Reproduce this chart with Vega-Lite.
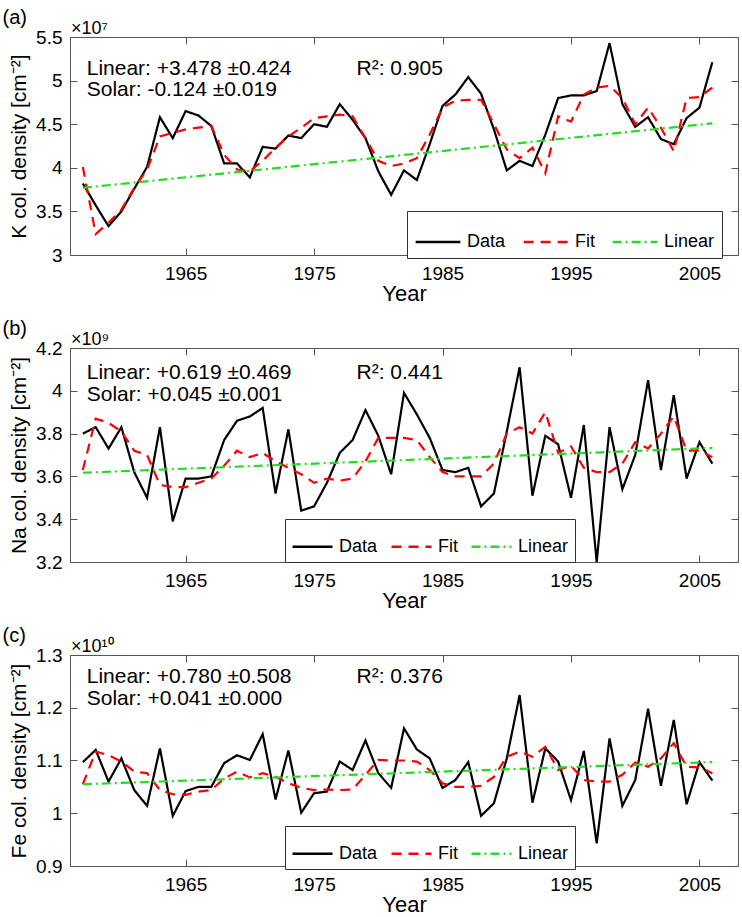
{
"$schema":"https://vega.github.io/schema/vega-lite/v6.json",
"padding":{"left":2,"top":7,"right":3,"bottom":0},
"spacing":13,
"datasets":{
"series":[
{"panel":"a","series":"Data","year":1957,"value":3.82},{"panel":"a","series":"Data","year":1958,"value":3.57},{"panel":"a","series":"Data","year":1959,"value":3.33},{"panel":"a","series":"Data","year":1960,"value":3.50},{"panel":"a","series":"Data","year":1961,"value":3.76},{"panel":"a","series":"Data","year":1962,"value":4.01},{"panel":"a","series":"Data","year":1963,"value":4.58},{"panel":"a","series":"Data","year":1964,"value":4.34},{"panel":"a","series":"Data","year":1965,"value":4.65},{"panel":"a","series":"Data","year":1966,"value":4.60},
{"panel":"a","series":"Data","year":1967,"value":4.48},{"panel":"a","series":"Data","year":1968,"value":4.05},{"panel":"a","series":"Data","year":1969,"value":4.05},{"panel":"a","series":"Data","year":1970,"value":3.89},{"panel":"a","series":"Data","year":1971,"value":4.24},{"panel":"a","series":"Data","year":1972,"value":4.22},{"panel":"a","series":"Data","year":1973,"value":4.37},{"panel":"a","series":"Data","year":1974,"value":4.34},{"panel":"a","series":"Data","year":1975,"value":4.50},{"panel":"a","series":"Data","year":1976,"value":4.47},
{"panel":"a","series":"Data","year":1977,"value":4.73},{"panel":"a","series":"Data","year":1978,"value":4.55},{"panel":"a","series":"Data","year":1979,"value":4.34},{"panel":"a","series":"Data","year":1980,"value":3.96},{"panel":"a","series":"Data","year":1981,"value":3.69},{"panel":"a","series":"Data","year":1982,"value":3.97},{"panel":"a","series":"Data","year":1983,"value":3.86},{"panel":"a","series":"Data","year":1984,"value":4.27},{"panel":"a","series":"Data","year":1985,"value":4.71},{"panel":"a","series":"Data","year":1986,"value":4.84},
{"panel":"a","series":"Data","year":1987,"value":5.04},{"panel":"a","series":"Data","year":1988,"value":4.85},{"panel":"a","series":"Data","year":1989,"value":4.44},{"panel":"a","series":"Data","year":1990,"value":3.97},{"panel":"a","series":"Data","year":1991,"value":4.08},{"panel":"a","series":"Data","year":1992,"value":4.02},{"panel":"a","series":"Data","year":1993,"value":4.38},{"panel":"a","series":"Data","year":1994,"value":4.80},{"panel":"a","series":"Data","year":1995,"value":4.83},{"panel":"a","series":"Data","year":1996,"value":4.83},
{"panel":"a","series":"Data","year":1997,"value":4.88},{"panel":"a","series":"Data","year":1998,"value":5.43},{"panel":"a","series":"Data","year":1999,"value":4.73},{"panel":"a","series":"Data","year":2000,"value":4.47},{"panel":"a","series":"Data","year":2001,"value":4.58},{"panel":"a","series":"Data","year":2002,"value":4.33},{"panel":"a","series":"Data","year":2003,"value":4.27},{"panel":"a","series":"Data","year":2004,"value":4.57},{"panel":"a","series":"Data","year":2005,"value":4.69},{"panel":"a","series":"Data","year":2006,"value":5.21},
{"panel":"a","series":"Fit","year":1957,"value":4.01},{"panel":"a","series":"Fit","year":1958,"value":3.24},{"panel":"a","series":"Fit","year":1959,"value":3.37},{"panel":"a","series":"Fit","year":1960,"value":3.52},{"panel":"a","series":"Fit","year":1961,"value":3.77},{"panel":"a","series":"Fit","year":1962,"value":3.98},{"panel":"a","series":"Fit","year":1963,"value":4.36},{"panel":"a","series":"Fit","year":1964,"value":4.40},{"panel":"a","series":"Fit","year":1965,"value":4.44},{"panel":"a","series":"Fit","year":1966,"value":4.46},
{"panel":"a","series":"Fit","year":1967,"value":4.48},{"panel":"a","series":"Fit","year":1968,"value":4.15},{"panel":"a","series":"Fit","year":1969,"value":3.98},{"panel":"a","series":"Fit","year":1970,"value":3.96},{"panel":"a","series":"Fit","year":1971,"value":4.08},{"panel":"a","series":"Fit","year":1972,"value":4.23},{"panel":"a","series":"Fit","year":1973,"value":4.36},{"panel":"a","series":"Fit","year":1974,"value":4.46},{"panel":"a","series":"Fit","year":1975,"value":4.57},{"panel":"a","series":"Fit","year":1976,"value":4.59},
{"panel":"a","series":"Fit","year":1977,"value":4.61},{"panel":"a","series":"Fit","year":1978,"value":4.59},{"panel":"a","series":"Fit","year":1979,"value":4.34},{"panel":"a","series":"Fit","year":1980,"value":4.08},{"panel":"a","series":"Fit","year":1981,"value":4.02},{"panel":"a","series":"Fit","year":1982,"value":4.05},{"panel":"a","series":"Fit","year":1983,"value":4.11},{"panel":"a","series":"Fit","year":1984,"value":4.38},{"panel":"a","series":"Fit","year":1985,"value":4.69},{"panel":"a","series":"Fit","year":1986,"value":4.77},
{"panel":"a","series":"Fit","year":1987,"value":4.78},{"panel":"a","series":"Fit","year":1988,"value":4.78},{"panel":"a","series":"Fit","year":1989,"value":4.50},{"panel":"a","series":"Fit","year":1990,"value":4.21},{"panel":"a","series":"Fit","year":1991,"value":4.11},{"panel":"a","series":"Fit","year":1992,"value":4.23},{"panel":"a","series":"Fit","year":1993,"value":3.94},{"panel":"a","series":"Fit","year":1994,"value":4.59},{"panel":"a","series":"Fit","year":1995,"value":4.53},{"panel":"a","series":"Fit","year":1996,"value":4.84},
{"panel":"a","series":"Fit","year":1997,"value":4.92},{"panel":"a","series":"Fit","year":1998,"value":4.94},{"panel":"a","series":"Fit","year":1999,"value":4.80},{"panel":"a","series":"Fit","year":2000,"value":4.50},{"panel":"a","series":"Fit","year":2001,"value":4.69},{"panel":"a","series":"Fit","year":2002,"value":4.46},{"panel":"a","series":"Fit","year":2003,"value":4.19},{"panel":"a","series":"Fit","year":2004,"value":4.80},{"panel":"a","series":"Fit","year":2005,"value":4.81},{"panel":"a","series":"Fit","year":2006,"value":4.92},
{"panel":"a","series":"Linear","year":1957,"value":3.77},{"panel":"a","series":"Linear","year":2006,"value":4.51},
{"panel":"b","series":"Data","year":1957,"value":3.80},{"panel":"b","series":"Data","year":1958,"value":3.83},{"panel":"b","series":"Data","year":1959,"value":3.73},{"panel":"b","series":"Data","year":1960,"value":3.83},{"panel":"b","series":"Data","year":1961,"value":3.62},{"panel":"b","series":"Data","year":1962,"value":3.50},{"panel":"b","series":"Data","year":1963,"value":3.83},{"panel":"b","series":"Data","year":1964,"value":3.39},{"panel":"b","series":"Data","year":1965,"value":3.59},{"panel":"b","series":"Data","year":1966,"value":3.59},
{"panel":"b","series":"Data","year":1967,"value":3.60},{"panel":"b","series":"Data","year":1968,"value":3.77},{"panel":"b","series":"Data","year":1969,"value":3.86},{"panel":"b","series":"Data","year":1970,"value":3.88},{"panel":"b","series":"Data","year":1971,"value":3.92},{"panel":"b","series":"Data","year":1972,"value":3.52},{"panel":"b","series":"Data","year":1973,"value":3.82},{"panel":"b","series":"Data","year":1974,"value":3.44},{"panel":"b","series":"Data","year":1975,"value":3.46},{"panel":"b","series":"Data","year":1976,"value":3.57},
{"panel":"b","series":"Data","year":1977,"value":3.71},{"panel":"b","series":"Data","year":1978,"value":3.77},{"panel":"b","series":"Data","year":1979,"value":3.91},{"panel":"b","series":"Data","year":1980,"value":3.79},{"panel":"b","series":"Data","year":1981,"value":3.61},{"panel":"b","series":"Data","year":1982,"value":3.99},{"panel":"b","series":"Data","year":1983,"value":3.89},{"panel":"b","series":"Data","year":1984,"value":3.78},{"panel":"b","series":"Data","year":1985,"value":3.63},{"panel":"b","series":"Data","year":1986,"value":3.62},
{"panel":"b","series":"Data","year":1987,"value":3.64},{"panel":"b","series":"Data","year":1988,"value":3.46},{"panel":"b","series":"Data","year":1989,"value":3.52},{"panel":"b","series":"Data","year":1990,"value":3.81},{"panel":"b","series":"Data","year":1991,"value":4.11},{"panel":"b","series":"Data","year":1992,"value":3.51},{"panel":"b","series":"Data","year":1993,"value":3.79},{"panel":"b","series":"Data","year":1994,"value":3.75},{"panel":"b","series":"Data","year":1995,"value":3.50},{"panel":"b","series":"Data","year":1996,"value":3.84},
{"panel":"b","series":"Data","year":1997,"value":3.20},{"panel":"b","series":"Data","year":1998,"value":3.83},{"panel":"b","series":"Data","year":1999,"value":3.54},{"panel":"b","series":"Data","year":2000,"value":3.70},{"panel":"b","series":"Data","year":2001,"value":4.05},{"panel":"b","series":"Data","year":2002,"value":3.63},{"panel":"b","series":"Data","year":2003,"value":3.98},{"panel":"b","series":"Data","year":2004,"value":3.59},{"panel":"b","series":"Data","year":2005,"value":3.76},{"panel":"b","series":"Data","year":2006,"value":3.66},
{"panel":"b","series":"Fit","year":1957,"value":3.63},{"panel":"b","series":"Fit","year":1958,"value":3.87},{"panel":"b","series":"Fit","year":1959,"value":3.85},{"panel":"b","series":"Fit","year":1960,"value":3.81},{"panel":"b","series":"Fit","year":1961,"value":3.72},{"panel":"b","series":"Fit","year":1962,"value":3.70},{"panel":"b","series":"Fit","year":1963,"value":3.56},{"panel":"b","series":"Fit","year":1964,"value":3.55},{"panel":"b","series":"Fit","year":1965,"value":3.55},{"panel":"b","series":"Fit","year":1966,"value":3.57},
{"panel":"b","series":"Fit","year":1967,"value":3.59},{"panel":"b","series":"Fit","year":1968,"value":3.65},{"panel":"b","series":"Fit","year":1969,"value":3.72},{"panel":"b","series":"Fit","year":1970,"value":3.69},{"panel":"b","series":"Fit","year":1971,"value":3.71},{"panel":"b","series":"Fit","year":1972,"value":3.67},{"panel":"b","series":"Fit","year":1973,"value":3.64},{"panel":"b","series":"Fit","year":1974,"value":3.61},{"panel":"b","series":"Fit","year":1975,"value":3.57},{"panel":"b","series":"Fit","year":1976,"value":3.59},
{"panel":"b","series":"Fit","year":1977,"value":3.58},{"panel":"b","series":"Fit","year":1978,"value":3.59},{"panel":"b","series":"Fit","year":1979,"value":3.67},{"panel":"b","series":"Fit","year":1980,"value":3.78},{"panel":"b","series":"Fit","year":1981,"value":3.78},{"panel":"b","series":"Fit","year":1982,"value":3.78},{"panel":"b","series":"Fit","year":1983,"value":3.77},{"panel":"b","series":"Fit","year":1984,"value":3.69},{"panel":"b","series":"Fit","year":1985,"value":3.62},{"panel":"b","series":"Fit","year":1986,"value":3.60},
{"panel":"b","series":"Fit","year":1987,"value":3.60},{"panel":"b","series":"Fit","year":1988,"value":3.60},{"panel":"b","series":"Fit","year":1989,"value":3.66},{"panel":"b","series":"Fit","year":1990,"value":3.80},{"panel":"b","series":"Fit","year":1991,"value":3.83},{"panel":"b","series":"Fit","year":1992,"value":3.80},{"panel":"b","series":"Fit","year":1993,"value":3.90},{"panel":"b","series":"Fit","year":1994,"value":3.71},{"panel":"b","series":"Fit","year":1995,"value":3.74},{"panel":"b","series":"Fit","year":1996,"value":3.64},
{"panel":"b","series":"Fit","year":1997,"value":3.62},{"panel":"b","series":"Fit","year":1998,"value":3.62},{"panel":"b","series":"Fit","year":1999,"value":3.66},{"panel":"b","series":"Fit","year":2000,"value":3.76},{"panel":"b","series":"Fit","year":2001,"value":3.73},{"panel":"b","series":"Fit","year":2002,"value":3.80},{"panel":"b","series":"Fit","year":2003,"value":3.88},{"panel":"b","series":"Fit","year":2004,"value":3.72},{"panel":"b","series":"Fit","year":2005,"value":3.72},{"panel":"b","series":"Fit","year":2006,"value":3.69},
{"panel":"b","series":"Linear","year":1957,"value":3.617},{"panel":"b","series":"Linear","year":2006,"value":3.733},
{"panel":"c","series":"Data","year":1957,"value":1.097},{"panel":"c","series":"Data","year":1958,"value":1.120},{"panel":"c","series":"Data","year":1959,"value":1.060},{"panel":"c","series":"Data","year":1960,"value":1.104},{"panel":"c","series":"Data","year":1961,"value":1.044},{"panel":"c","series":"Data","year":1962,"value":1.014},{"panel":"c","series":"Data","year":1963,"value":1.123},{"panel":"c","series":"Data","year":1964,"value":0.995},{"panel":"c","series":"Data","year":1965,"value":1.042},{"panel":"c","series":"Data","year":1966,"value":1.050},
{"panel":"c","series":"Data","year":1967,"value":1.050},{"panel":"c","series":"Data","year":1968,"value":1.095},{"panel":"c","series":"Data","year":1969,"value":1.110},{"panel":"c","series":"Data","year":1970,"value":1.101},{"panel":"c","series":"Data","year":1971,"value":1.150},{"panel":"c","series":"Data","year":1972,"value":1.026},{"panel":"c","series":"Data","year":1973,"value":1.119},{"panel":"c","series":"Data","year":1974,"value":1.001},{"panel":"c","series":"Data","year":1975,"value":1.038},{"panel":"c","series":"Data","year":1976,"value":1.041},
{"panel":"c","series":"Data","year":1977,"value":1.098},{"panel":"c","series":"Data","year":1978,"value":1.082},{"panel":"c","series":"Data","year":1979,"value":1.138},{"panel":"c","series":"Data","year":1980,"value":1.076},{"panel":"c","series":"Data","year":1981,"value":1.048},{"panel":"c","series":"Data","year":1982,"value":1.161},{"panel":"c","series":"Data","year":1983,"value":1.121},{"panel":"c","series":"Data","year":1984,"value":1.104},{"panel":"c","series":"Data","year":1985,"value":1.048},{"panel":"c","series":"Data","year":1986,"value":1.063},
{"panel":"c","series":"Data","year":1987,"value":1.097},{"panel":"c","series":"Data","year":1988,"value":0.995},{"panel":"c","series":"Data","year":1989,"value":1.019},{"panel":"c","series":"Data","year":1990,"value":1.104},{"panel":"c","series":"Data","year":1991,"value":1.224},{"panel":"c","series":"Data","year":1992,"value":1.020},{"panel":"c","series":"Data","year":1993,"value":1.123},{"panel":"c","series":"Data","year":1994,"value":1.098},{"panel":"c","series":"Data","year":1995,"value":1.025},{"panel":"c","series":"Data","year":1996,"value":1.118},
{"panel":"c","series":"Data","year":1997,"value":0.943},{"panel":"c","series":"Data","year":1998,"value":1.142},{"panel":"c","series":"Data","year":1999,"value":1.014},{"panel":"c","series":"Data","year":2000,"value":1.063},{"panel":"c","series":"Data","year":2001,"value":1.198},{"panel":"c","series":"Data","year":2002,"value":1.052},{"panel":"c","series":"Data","year":2003,"value":1.177},{"panel":"c","series":"Data","year":2004,"value":1.017},{"panel":"c","series":"Data","year":2005,"value":1.097},{"panel":"c","series":"Data","year":2006,"value":1.062},
{"panel":"c","series":"Fit","year":1957,"value":1.055},{"panel":"c","series":"Fit","year":1958,"value":1.117},{"panel":"c","series":"Fit","year":1959,"value":1.110},{"panel":"c","series":"Fit","year":1960,"value":1.098},{"panel":"c","series":"Fit","year":1961,"value":1.079},{"panel":"c","series":"Fit","year":1962,"value":1.076},{"panel":"c","series":"Fit","year":1963,"value":1.044},{"panel":"c","series":"Fit","year":1964,"value":1.036},{"panel":"c","series":"Fit","year":1965,"value":1.035},{"panel":"c","series":"Fit","year":1966,"value":1.041},
{"panel":"c","series":"Fit","year":1967,"value":1.044},{"panel":"c","series":"Fit","year":1968,"value":1.066},{"panel":"c","series":"Fit","year":1969,"value":1.079},{"panel":"c","series":"Fit","year":1970,"value":1.068},{"panel":"c","series":"Fit","year":1971,"value":1.076},{"panel":"c","series":"Fit","year":1972,"value":1.069},{"panel":"c","series":"Fit","year":1973,"value":1.057},{"panel":"c","series":"Fit","year":1974,"value":1.048},{"panel":"c","series":"Fit","year":1975,"value":1.044},{"panel":"c","series":"Fit","year":1976,"value":1.045},
{"panel":"c","series":"Fit","year":1977,"value":1.044},{"panel":"c","series":"Fit","year":1978,"value":1.045},{"panel":"c","series":"Fit","year":1979,"value":1.073},{"panel":"c","series":"Fit","year":1980,"value":1.101},{"panel":"c","series":"Fit","year":1981,"value":1.100},{"panel":"c","series":"Fit","year":1982,"value":1.100},{"panel":"c","series":"Fit","year":1983,"value":1.098},{"panel":"c","series":"Fit","year":1984,"value":1.082},{"panel":"c","series":"Fit","year":1985,"value":1.057},{"panel":"c","series":"Fit","year":1986,"value":1.050},
{"panel":"c","series":"Fit","year":1987,"value":1.050},{"panel":"c","series":"Fit","year":1988,"value":1.052},{"panel":"c","series":"Fit","year":1989,"value":1.069},{"panel":"c","series":"Fit","year":1990,"value":1.107},{"panel":"c","series":"Fit","year":1991,"value":1.117},{"panel":"c","series":"Fit","year":1992,"value":1.107},{"panel":"c","series":"Fit","year":1993,"value":1.126},{"panel":"c","series":"Fit","year":1994,"value":1.082},{"panel":"c","series":"Fit","year":1995,"value":1.090},{"panel":"c","series":"Fit","year":1996,"value":1.063},
{"panel":"c","series":"Fit","year":1997,"value":1.060},{"panel":"c","series":"Fit","year":1998,"value":1.060},{"panel":"c","series":"Fit","year":1999,"value":1.073},{"panel":"c","series":"Fit","year":2000,"value":1.096},{"panel":"c","series":"Fit","year":2001,"value":1.088},{"panel":"c","series":"Fit","year":2002,"value":1.104},{"panel":"c","series":"Fit","year":2003,"value":1.133},{"panel":"c","series":"Fit","year":2004,"value":1.088},{"panel":"c","series":"Fit","year":2005,"value":1.087},{"panel":"c","series":"Fit","year":2006,"value":1.076},
{"panel":"c","series":"Linear","year":1957,"value":1.055},{"panel":"c","series":"Linear","year":2006,"value":1.097}
],
"notes":[
{"panel":"a","linear":"Linear: +3.478 ±0.424","solar":"Solar: -0.124 ±0.019","r2":"R²: 0.905","exp":"×10⁷"},
{"panel":"b","linear":"Linear: +0.619 ±0.469","solar":"Solar: +0.045 ±0.001","r2":"R²: 0.441","exp":"×10⁹"},
{"panel":"c","linear":"Linear: +0.780 ±0.508","solar":"Solar: +0.041 ±0.000","r2":"R²: 0.376","exp":"×10¹⁰"}
]},
"resolve":{"scale":{"x":"independent","y":"independent","color":"independent","strokeDash":"independent"},"legend":{"color":"independent","strokeDash":"independent"}},
"vconcat":[
{"title":{"text":"(a)"},"width":668,"height":218,
"resolve":{"axis":{"x":"independent","y":"independent"}},
"layer":[
{"data":{"name":"series"},"transform":[{"filter":"datum.panel === 'a'"}],
"mark":{"type":"line","strokeWidth":2.2},
"encoding":{
"x":{"field":"year","type":"quantitative","scale":{"domain":[1956,2008],"nice":false,"zero":false},"axis":{"orient":"bottom","title":"Year","values":[1965,1975,1985,1995,2005],"format":"d"}},
"y":{"field":"value","type":"quantitative","scale":{"domain":[3,5.5],"nice":false,"zero":false},"axis":{"orient":"left","title":"K col. density [cm⁻²]","values":[3,3.5,4,4.5,5,5.5],"format":".2~f"}},
"color":{"field":"series","type":"nominal","scale":{"domain":["Data","Fit","Linear"],"range":["#000000","#ff0000","#22dd22"]},"legend":{"orient":"none","legendX":337,"legendY":174}},
"strokeDash":{"field":"series","type":"nominal","scale":{"domain":["Data","Fit","Linear"],"range":[[1,0],[10,7],[9,4,2,4]]},"legend":{"orient":"none","legendX":337,"legendY":174}}}},
{"data":{"name":"notes"},"transform":[{"filter":"datum.panel === 'a'"}],"mark":{"type":"text","align":"left","baseline":"alphabetic","fontSize":21},
"encoding":{"x":{"datum":1957.3,"type":"quantitative","axis":{"orient":"top","labels":false,"title":null,"values":[1965,1975,1985,1995,2005]}},"y":{"datum":5.06,"type":"quantitative","axis":{"orient":"right","labels":false,"title":null,"values":[3,3.5,4,4.5,5,5.5]}},"text":{"field":"linear"}}},
{"data":{"name":"notes"},"transform":[{"filter":"datum.panel === 'a'"}],"mark":{"type":"text","align":"left","baseline":"alphabetic","fontSize":21},
"encoding":{"x":{"datum":1957.3,"type":"quantitative","axis":null},"y":{"datum":4.82,"type":"quantitative","axis":null},"text":{"field":"solar"}}},
{"data":{"name":"notes"},"transform":[{"filter":"datum.panel === 'a'"}],"mark":{"type":"text","align":"left","baseline":"alphabetic","fontSize":21},
"encoding":{"x":{"datum":1978.3,"type":"quantitative","axis":null},"y":{"datum":5.06,"type":"quantitative","axis":null},"text":{"field":"r2"}}},
{"data":{"name":"notes"},"transform":[{"filter":"datum.panel === 'a'"}],"mark":{"type":"text","align":"left","baseline":"alphabetic","fontSize":18,"dx":1,"dy":-3},
"encoding":{"x":{"datum":1956,"type":"quantitative","axis":null},"y":{"datum":5.5,"type":"quantitative","axis":null},"text":{"field":"exp"}}}
]},
{"title":{"text":"(b)"},"width":668,"height":214,
"resolve":{"axis":{"x":"independent","y":"independent"}},
"layer":[
{"data":{"name":"series"},"transform":[{"filter":"datum.panel === 'b'"}],
"mark":{"type":"line","strokeWidth":2.2},
"encoding":{
"x":{"field":"year","type":"quantitative","scale":{"domain":[1956,2008],"nice":false,"zero":false},"axis":{"orient":"bottom","title":"Year","values":[1965,1975,1985,1995,2005],"format":"d"}},
"y":{"field":"value","type":"quantitative","scale":{"domain":[3.2,4.2],"nice":false,"zero":false},"axis":{"orient":"left","title":"Na col. density [cm⁻²]","values":[3.2,3.4,3.6,3.8,4,4.2],"format":".2~f"}},
"color":{"field":"series","type":"nominal","scale":{"domain":["Data","Fit","Linear"],"range":["#000000","#ff0000","#22dd22"]},"legend":{"orient":"none","legendX":215,"legendY":171,"symbolSize":1600,"columnPadding":8,"padding":6}},
"strokeDash":{"field":"series","type":"nominal","scale":{"domain":["Data","Fit","Linear"],"range":[[1,0],[10,7],[9,4,2,4]]},"legend":{"orient":"none","legendX":215,"legendY":171,"symbolSize":1600,"columnPadding":8,"padding":6}}}},
{"data":{"name":"notes"},"transform":[{"filter":"datum.panel === 'b'"}],"mark":{"type":"text","align":"left","baseline":"alphabetic","fontSize":21},
"encoding":{"x":{"datum":1957.3,"type":"quantitative","axis":{"orient":"top","labels":false,"title":null,"values":[1965,1975,1985,1995,2005]}},"y":{"datum":4.054,"type":"quantitative","axis":{"orient":"right","labels":false,"title":null,"values":[3.2,3.4,3.6,3.8,4,4.2]}},"text":{"field":"linear"}}},
{"data":{"name":"notes"},"transform":[{"filter":"datum.panel === 'b'"}],"mark":{"type":"text","align":"left","baseline":"alphabetic","fontSize":21},
"encoding":{"x":{"datum":1957.3,"type":"quantitative","axis":null},"y":{"datum":3.952,"type":"quantitative","axis":null},"text":{"field":"solar"}}},
{"data":{"name":"notes"},"transform":[{"filter":"datum.panel === 'b'"}],"mark":{"type":"text","align":"left","baseline":"alphabetic","fontSize":21},
"encoding":{"x":{"datum":1978.3,"type":"quantitative","axis":null},"y":{"datum":4.054,"type":"quantitative","axis":null},"text":{"field":"r2"}}},
{"data":{"name":"notes"},"transform":[{"filter":"datum.panel === 'b'"}],"mark":{"type":"text","align":"left","baseline":"alphabetic","fontSize":18,"dx":1,"dy":-3},
"encoding":{"x":{"datum":1956,"type":"quantitative","axis":null},"y":{"datum":4.2,"type":"quantitative","axis":null},"text":{"field":"exp"}}}
]},
{"title":{"text":"(c)"},"width":668,"height":211,
"resolve":{"axis":{"x":"independent","y":"independent"}},
"layer":[
{"data":{"name":"series"},"transform":[{"filter":"datum.panel === 'c'"}],
"mark":{"type":"line","strokeWidth":2.2},
"encoding":{
"x":{"field":"year","type":"quantitative","scale":{"domain":[1956,2008],"nice":false,"zero":false},"axis":{"orient":"bottom","title":"Year","values":[1965,1975,1985,1995,2005],"format":"d"}},
"y":{"field":"value","type":"quantitative","scale":{"domain":[0.9,1.3],"nice":false,"zero":false},"axis":{"orient":"left","title":"Fe col. density [cm⁻²]","values":[0.9,1,1.1,1.2,1.3],"format":".2~f"}},
"color":{"field":"series","type":"nominal","scale":{"domain":["Data","Fit","Linear"],"range":["#000000","#ff0000","#22dd22"]},"legend":{"orient":"none","legendX":215,"legendY":171,"symbolSize":1600,"columnPadding":8,"padding":6}},
"strokeDash":{"field":"series","type":"nominal","scale":{"domain":["Data","Fit","Linear"],"range":[[1,0],[10,7],[9,4,2,4]]},"legend":{"orient":"none","legendX":215,"legendY":171,"symbolSize":1600,"columnPadding":8,"padding":6}}}},
{"data":{"name":"notes"},"transform":[{"filter":"datum.panel === 'c'"}],"mark":{"type":"text","align":"left","baseline":"alphabetic","fontSize":21},
"encoding":{"x":{"datum":1957.3,"type":"quantitative","axis":{"orient":"top","labels":false,"title":null,"values":[1965,1975,1985,1995,2005]}},"y":{"datum":1.246,"type":"quantitative","axis":{"orient":"right","labels":false,"title":null,"values":[0.9,1,1.1,1.2,1.3]}},"text":{"field":"linear"}}},
{"data":{"name":"notes"},"transform":[{"filter":"datum.panel === 'c'"}],"mark":{"type":"text","align":"left","baseline":"alphabetic","fontSize":21},
"encoding":{"x":{"datum":1957.3,"type":"quantitative","axis":null},"y":{"datum":1.205,"type":"quantitative","axis":null},"text":{"field":"solar"}}},
{"data":{"name":"notes"},"transform":[{"filter":"datum.panel === 'c'"}],"mark":{"type":"text","align":"left","baseline":"alphabetic","fontSize":21},
"encoding":{"x":{"datum":1978.3,"type":"quantitative","axis":null},"y":{"datum":1.246,"type":"quantitative","axis":null},"text":{"field":"r2"}}},
{"data":{"name":"notes"},"transform":[{"filter":"datum.panel === 'c'"}],"mark":{"type":"text","align":"left","baseline":"alphabetic","fontSize":18,"dx":1,"dy":-3},
"encoding":{"x":{"datum":1956,"type":"quantitative","axis":null},"y":{"datum":1.3,"type":"quantitative","axis":null},"text":{"field":"exp"}}}
]}
],
"config":{
"font":"Liberation Sans",
"view":{"stroke":"#555","strokeWidth":1},
"text":{"font":"Liberation Sans","color":"#000"},
"title":{"anchor":"start","frame":"bounds","fontSize":20,"fontWeight":"normal","font":"Liberation Sans","color":"#000","offset":-8,"dx":-6},
"axis":{"domain":false,"grid":false,"tickSize":-7,"tickColor":"#555","tickWidth":1,"labelFont":"Liberation Sans","labelFontSize":19,"labelColor":"#000","titleFont":"Liberation Sans","titleFontWeight":"normal","titleColor":"#000"},
"axisX":{"titleFontSize":22,"labelPadding":16,"titlePadding":0},
"axisY":{"titleFontSize":21,"labelPadding":15,"titlePadding":6},
"legend":{"direction":"horizontal","columns":3,"title":null,"fillColor":"white","strokeColor":"#333","padding":7,"labelFontSize":18,"labelFont":"Liberation Sans","labelColor":"#000","symbolType":"stroke","symbolSize":2000,"symbolStrokeWidth":2.5,"columnPadding":12,"labelOffset":5,"cornerRadius":0}
}
}
